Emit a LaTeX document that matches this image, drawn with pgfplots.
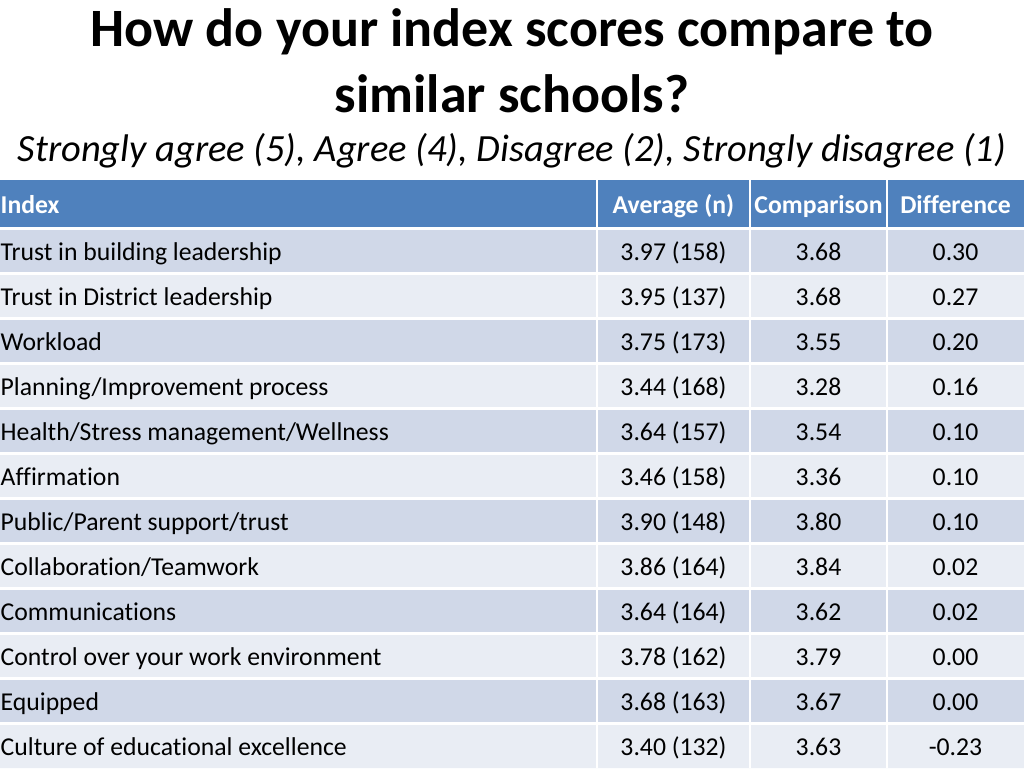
\documentclass[border=0pt]{standalone}
\usepackage{fontspec}
\setmainfont{Carlito}[Ligatures=NoCommon]
\usepackage{pgfplots}
\usepackage{pgfplotstable}
\pgfplotsset{compat=1.18}
\definecolor{hdr}{RGB}{79,129,189}
\definecolor{rowA}{RGB}{208,216,232}
\definecolor{rowB}{RGB}{233,237,244}

\pgfplotstableread[col sep=comma]{
name,avg,cmp,diff,y
Trust in building leadership,3.97 (158),3.68,0.30,260
Trust in District leadership,3.95 (137),3.68,0.27,305
Workload,3.75 (173),3.55,0.20,350
Planning/Improvement process,3.44 (168),3.28,0.16,395
Health/Stress management/Wellness,3.64 (157),3.54,0.10,440
Affirmation,3.46 (158),3.36,0.10,485
Public/Parent support/trust,3.90 (148),3.80,0.10,530
Collaboration/Teamwork,3.86 (164),3.84,0.02,575
Communications,3.64 (164),3.62,0.02,620
Control over your work environment,3.78 (162),3.79,0.00,665
Equipped,3.68 (163),3.67,0.00,710
Culture of educational excellence,3.40 (132),3.63,-0.23,755
}\tbl

\begin{document}
\begin{tikzpicture}
\begin{axis}[
  scale only axis, width=1024pt, height=768pt,
  xmin=0, xmax=1024, ymin=0, ymax=768, y dir=reverse,
  hide axis, clip=false, enlargelimits=false,
]
% header band
\addplot[fill=hdr, draw=none] coordinates {(0,180) (1024,180) (1024,228) (0,228)};
% row bands
\addplot[xbar, bar width=45, bar shift=0, fill=rowA, draw=none]
  coordinates {(1024,250.5) (1024,340.5) (1024,430.5) (1024,520.5) (1024,610.5) (1024,700.5)};
\addplot[xbar, bar width=45, bar shift=0, fill=rowB, draw=none]
  coordinates {(1024,295.5) (1024,385.5) (1024,475.5) (1024,565.5) (1024,655.5) (1024,745.5)};
% white grid lines
\addplot[white, line width=3pt, unbounded coords=jump] coordinates {
 (0,228) (1024,228) (nan,nan) (0,273) (1024,273) (nan,nan)
 (0,318) (1024,318) (nan,nan) (0,363) (1024,363) (nan,nan)
 (0,408) (1024,408) (nan,nan) (0,453) (1024,453) (nan,nan)
 (0,498) (1024,498) (nan,nan) (0,543) (1024,543) (nan,nan)
 (0,588) (1024,588) (nan,nan) (0,633) (1024,633) (nan,nan)
 (0,678) (1024,678) (nan,nan) (0,723) (1024,723)};
\addplot[white, line width=2.5pt, unbounded coords=jump] coordinates {
 (597,180) (597,768) (nan,nan) (750,180) (750,768) (nan,nan) (887,180) (887,768)};
% header text
\addplot[draw=none, mark=none, nodes near coords, point meta=explicit symbolic,
  every node near coord/.append style={anchor=base west, inner sep=0pt, text=white,
  font=\fontsize{25.7}{30}\selectfont\bfseries}]
  table[x=x, y=y, meta=t] {
x y t
0.5 213 Index
};
\addplot[draw=none, mark=none, nodes near coords, point meta=explicit symbolic,
  every node near coord/.append style={anchor=base, inner sep=0pt, text=white,
  font=\fontsize{25.7}{30}\selectfont\bfseries}]
  table[col sep=comma, x=x, y=y, meta=t] {
x,y,t
673.5,213,Average (n)
818.5,213,Comparison
955.5,213,Difference
};
% body text
\addplot[draw=none, mark=none, nodes near coords, point meta=explicit symbolic,
  every node near coord/.append style={anchor=base west, inner sep=0pt,
  font=\fontsize{25.7}{30}\selectfont}]
  table[x expr=0.5, y=y, meta=name] {\tbl};
\addplot[draw=none, mark=none, nodes near coords, point meta=explicit symbolic,
  every node near coord/.append style={anchor=base, inner sep=0pt,
  font=\fontsize{25.7}{30}\selectfont}]
  table[x expr=673.5, y=y, meta=avg] {\tbl};
\addplot[draw=none, mark=none, nodes near coords, point meta=explicit symbolic,
  every node near coord/.append style={anchor=base, inner sep=0pt,
  font=\fontsize{25.7}{30}\selectfont}]
  table[x expr=818.5, y=y, meta=cmp] {\tbl};
\addplot[draw=none, mark=none, nodes near coords, point meta=explicit symbolic,
  every node near coord/.append style={anchor=base, inner sep=0pt,
  font=\fontsize{25.7}{30}\selectfont}]
  table[x expr=955.5, y=y, meta=diff] {\tbl};
% titles
\node[anchor=base, inner sep=0pt, font=\fontsize{54}{60}\selectfont\bfseries]
  at (axis cs:512,47) {How do your index scores compare to};
\node[anchor=base, inner sep=0pt, font=\fontsize{54}{60}\selectfont\bfseries]
  at (axis cs:512,112) {similar schools?};
\node[anchor=base, inner sep=0pt, font=\fontsize{38.5}{44}\selectfont\itshape]
  at (axis cs:512,161) {Strongly agree (5), Agree (4), Disagree (2), Strongly disagree (1)};
\end{axis}
\pgfresetboundingbox
\path[use as bounding box] (current axis.south west) rectangle (current axis.north east);
\end{tikzpicture}
\end{document}
